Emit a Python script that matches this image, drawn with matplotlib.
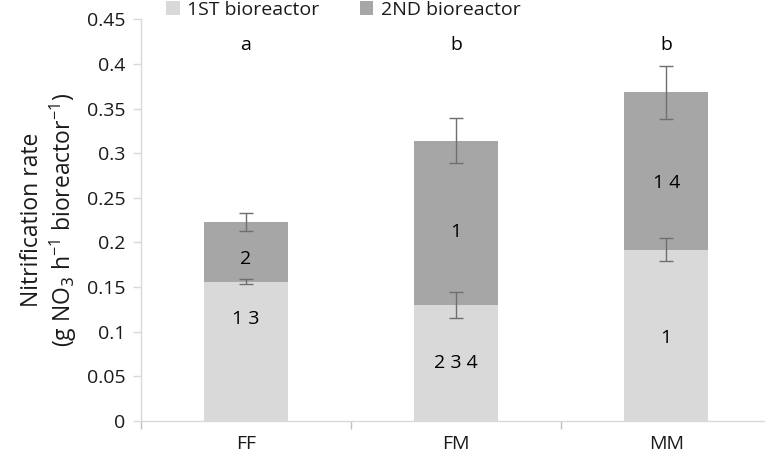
import matplotlib
matplotlib.use("Agg")
import matplotlib.pyplot as plt
import numpy as np

plt.rcParams['font.family'] = ['Open Sans', 'DejaVu Sans']

categories = ["FF", "FM", "MM"]
first = [0.156, 0.130, 0.192]
second = [0.067, 0.184, 0.176]
first_err = [0.003, 0.015, 0.0125]
total_err = [0.010, 0.025, 0.030]
first_labels = ["1 3", "2 3 4", "1"]
first_label_y = [0.114, 0.065, 0.093]
second_labels = ["2", "1", "1 4"]
second_label_y = [0.181, 0.212, 0.267]
letters = ["a", "b", "b"]
letter_y = 0.421
yticks = [0, 0.05, 0.1, 0.15, 0.2, 0.25, 0.3, 0.35, 0.4, 0.45]
ytick_labels = ["0", "0.05", "0.1", "0.15", "0.2", "0.25", "0.3", "0.35", "0.4", "0.45"]

c1 = "#d9d9d9"
c2 = "#a6a6a6"
ecol = "#6f6f6f"
tcol = "#1a1a1a"

fig = plt.figure(figsize=(7.65, 4.66), dpi=100)
ax = fig.add_axes([0.184, 0.0966, 0.816, 0.862])
x = np.arange(len(categories))
w = 0.4
ax.bar(x, first, width=w, color=c1, label="1ST bioreactor", zorder=2)
ax.bar(x, second, width=w, bottom=first, color=c2, label="2ND bioreactor", zorder=2)
totals = np.array(first) + np.array(second)
ax.errorbar(x, first, yerr=first_err, fmt="none", ecolor=ecol, elinewidth=1.0, capsize=5, capthick=1.0, zorder=3)
ax.errorbar(x, totals, yerr=total_err, fmt="none", ecolor=ecol, elinewidth=1.0, capsize=5, capthick=1.0, zorder=3)

for i in range(len(categories)):
    ax.text(x[i], first_label_y[i], first_labels[i], ha="center", va="center", fontsize=14, color="black", zorder=4)
    ax.text(x[i], second_label_y[i], second_labels[i], ha="center", va="center", fontsize=14, color="black", zorder=4)
    ax.text(x[i], letter_y, letters[i], ha="center", va="center", fontsize=14, color="black", zorder=4)

ax.set_xlim(-0.5, 2.47)
ax.set_ylim(0, 0.45)
ax.set_yticks(yticks)
ax.set_yticklabels(ytick_labels, fontsize=14, color=tcol)
ax.set_xticks(x)
ax.set_xticklabels(categories, fontsize=14, color=tcol)
ax.tick_params(axis="x", length=0, pad=10)
ax.set_xticks([-0.5, 0.5, 1.5], minor=True)
ax.tick_params(axis="x", which="minor", length=6, color="#bfbfbf", width=1)
ax.tick_params(axis="y", length=6, color="#d9d9d9", width=1, pad=5)

for s in ["top", "right"]:
    ax.spines[s].set_visible(False)
ax.spines["left"].set_color("#d9d9d9")
ax.spines["bottom"].set_color("#d9d9d9")
ax.spines["left"].set_linewidth(1)
ax.spines["bottom"].set_linewidth(1)

ax.set_ylabel("Nitrification rate\n(g NO$_3$ h$^{\\mathregular{-1}}$ bioreactor$^{\\mathregular{-1}}$)",
              fontsize=16.5, color=tcol, labelpad=6, linespacing=1.15)

leg = ax.legend(loc="upper left", bbox_to_anchor=(0.028, 1.065), ncol=2, frameon=False, fontsize=14,
                handlelength=0.7, handleheight=0.7, handletextpad=0.4, columnspacing=2.05, borderaxespad=0)
for t in leg.get_texts():
    t.set_color(tcol)

fig.savefig("out.png", dpi=100)
